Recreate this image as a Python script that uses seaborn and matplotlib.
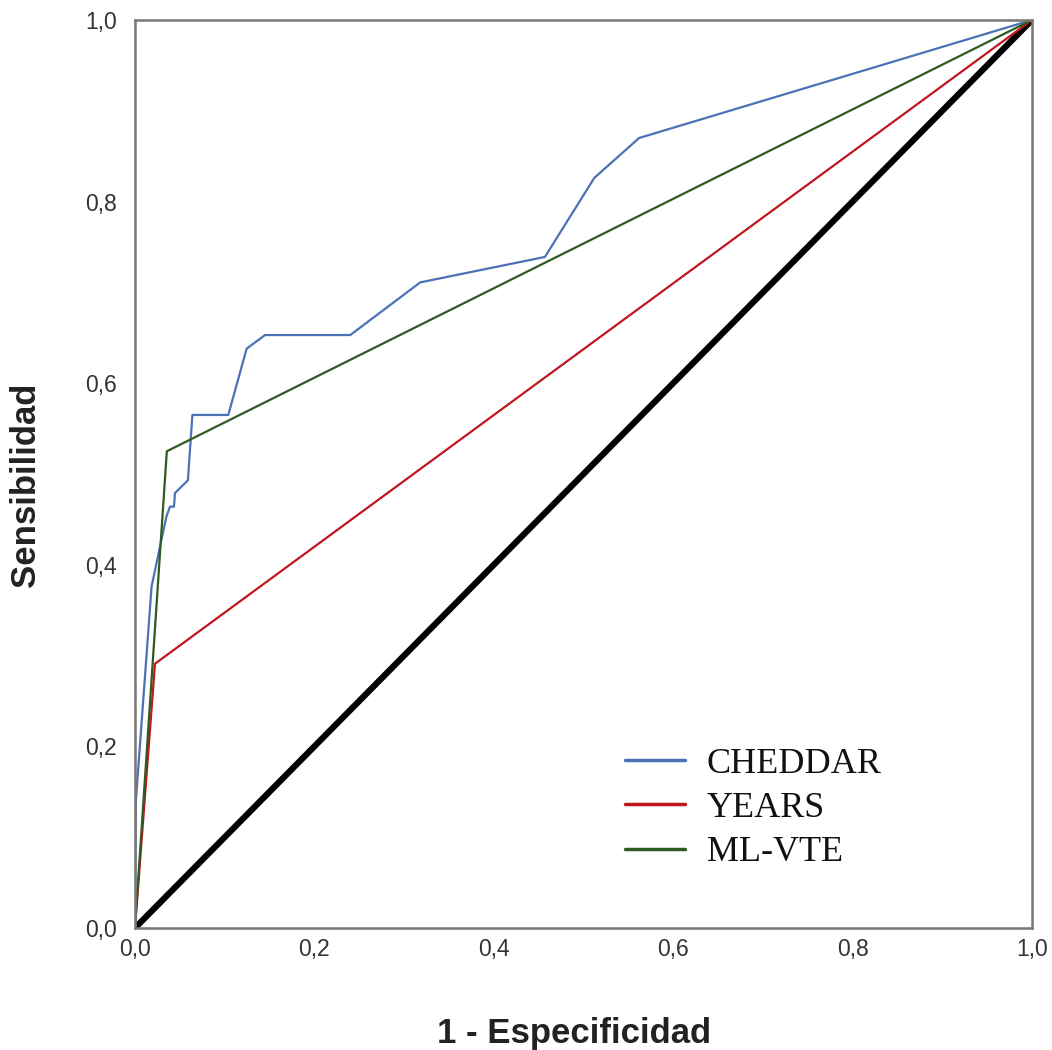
import matplotlib
matplotlib.use("Agg")
import matplotlib.pyplot as plt
import seaborn as sns
import pandas as pd

# ROC curve data (1 - specificity, sensitivity)
cheddar_fpr = [0.0, 0.001, 0.0185, 0.035, 0.039, 0.0435, 0.0446, 0.059, 0.064, 0.104,
               0.1245, 0.145, 0.240, 0.318, 0.457, 0.512, 0.562, 1.0]
cheddar_tpr = [0.0, 0.14, 0.376, 0.453, 0.464, 0.464, 0.479, 0.493, 0.565, 0.565,
               0.638, 0.653, 0.653, 0.711, 0.739, 0.826, 0.870, 1.0]
years_fpr = [0.0, 0.0223, 1.0]
years_tpr = [0.0, 0.291, 1.0]
mlvte_fpr = [0.0, 0.0355, 1.0]
mlvte_tpr = [0.0, 0.525, 1.0]
ref_fpr = [0.0, 1.0]
ref_tpr = [0.0, 1.0]

series_names = ["CHEDDAR", "YEARS", "ML-VTE"]
series_colors = ["#4c72b6", "#c0161d", "#2f5a22"]
tick_values = [0.0, 0.2, 0.4, 0.6, 0.8, 1.0]
tick_labels = ["0,0", "0,2", "0,4", "0,6", "0,8", "1,0"]

rows = []
for name, fx, ty in zip(series_names, [cheddar_fpr, years_fpr, mlvte_fpr],
                        [cheddar_tpr, years_tpr, mlvte_tpr]):
    for i, (a, b) in enumerate(zip(fx, ty)):
        rows.append({"curve": name, "fpr": a, "tpr": b, "order": i})
df = pd.DataFrame(rows)
ref_df = pd.DataFrame({"fpr": ref_fpr, "tpr": ref_tpr})

sns.set_theme(style="white")
plt.rcParams["font.family"] = ["Liberation Sans", "DejaVu Sans"]

fig = plt.figure(figsize=(10.52, 10.5), dpi=100)
ax = fig.add_axes([0.1283, 0.1162, 0.8527, 0.8648])

sns.lineplot(data=ref_df, x="fpr", y="tpr", color="black", linewidth=4.5,
             estimator=None, sort=False, ax=ax, legend=False)
sns.lineplot(data=df, x="fpr", y="tpr", hue="curve", hue_order=series_names,
             palette=series_colors, linewidth=1.6, estimator=None, sort=False,
             units="curve", ax=ax)

ax.set_xlim(0, 1)
ax.set_ylim(0, 1)
ax.set_xticks(tick_values)
ax.set_xticklabels(tick_labels)
ax.set_yticks(tick_values)
ax.set_yticklabels(tick_labels)
ax.tick_params(axis="both", length=0, labelsize=16.5, colors="#333333")
ax.tick_params(axis="x", pad=7)
ax.tick_params(axis="y", pad=13)
for s in ax.spines.values():
    s.set_color("#777777")
    s.set_linewidth(1.8)

ax.set_xlabel("1 - Especificidad", fontsize=25, fontweight="bold", color="#222222")
ax.set_ylabel("Sensibilidad", fontsize=25, fontweight="bold", color="#222222")
ax.xaxis.set_label_coords(0.49, -0.0975, transform=ax.transAxes)
ax.yaxis.set_label_coords(-0.104, 0.488, transform=ax.transAxes)

leg = ax.legend(loc="lower left", bbox_to_anchor=(0.510, 0.029), frameon=False,
                prop={"family": "Liberation Serif", "size": 26},
                handlelength=1.65, handletextpad=0.62, labelspacing=0.3)
for t in leg.get_texts():
    t.set_color("#111111")
for line in leg.get_lines():
    line.set_linewidth(2.5)

fig.savefig("out.png", dpi=100, facecolor="white")
